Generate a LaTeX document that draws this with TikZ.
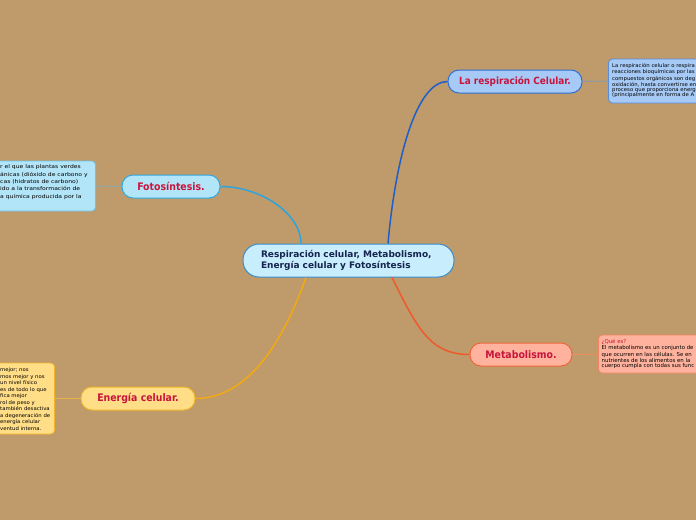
\documentclass[tikz,border=0pt]{standalone}
\usepackage{fontspec}
\setmainfont{DejaVu Sans}
\newfontfamily\titlefont{DejaVu Sans Condensed}
\newfontfamily\noteF{DejaVu Sans}[FakeStretch=1.17]
\newfontfamily\noteR{DejaVu Sans}[FakeStretch=1.05]
\newfontfamily\noteE{DejaVu Sans}[FakeStretch=1.07]
\definecolor{bg}{HTML}{BF9A6B}
\definecolor{cfill}{HTML}{C8EDFD}
\definecolor{cdraw}{HTML}{3A8CC8}
\definecolor{ctext}{HTML}{16244F}
\definecolor{ttext}{HTML}{C8143C}
\definecolor{ffill}{HTML}{B3E5F8}
\definecolor{fdraw}{HTML}{30A8DE}
\definecolor{rfill}{HTML}{A6C9F5}
\definecolor{rdraw}{HTML}{2F6FD0}
\definecolor{mfill}{HTML}{FFB39E}
\definecolor{mdraw}{HTML}{F0663A}
\definecolor{efill}{HTML}{FFDE87}
\definecolor{edraw}{HTML}{F2B52A}
\definecolor{fline}{HTML}{2DA5DC}
\definecolor{rline}{HTML}{1F5FC9}
\definecolor{mline}{HTML}{EE5A2A}
\definecolor{eline}{HTML}{F2AA12}
\definecolor{fnote}{HTML}{8FA8A8}
\definecolor{rnote}{HTML}{8C9AA8}
\definecolor{mnote}{HTML}{E89060}
\definecolor{enote}{HTML}{E4B448}
\tikzset{
  title/.style={rounded corners=11pt, line width=1pt, minimum height=23pt, inner sep=0pt,
    text=ttext, font=\titlefont\bfseries\fontsize{10.4}{12}\selectfont},
  notebox/.style={rounded corners=4pt, line width=0.8pt, inner sep=0pt},
  notetext/.style={inner sep=0pt, align=left, anchor=north west, text=black},
  branch/.style={line width=1.5pt},
  leaf/.style={line width=1pt}
}
\begin{document}
\begin{tikzpicture}[x=1pt,y=-1pt]
\useasboundingbox (0,0) rectangle (696,520);
\clip (0,0) rectangle (696,520);
\fill[bg] (0,0) rectangle (696,520);

% central
\node[draw=cdraw, fill=cfill, line width=1pt, rounded corners=16pt, minimum width=211pt, minimum height=33pt,
  text width=175pt, align=left, inner xsep=0pt, text=ctext,
  font=\bfseries\fontsize{9}{10.5}\selectfont] (c) at (348.5,260.5)
  {Respiración celular, Metabolismo,\\Energía celular y Fotosíntesis};

\node[title, draw=fdraw, fill=ffill, minimum width=98pt] (f) at (171,186.5) {Fotosíntesis.};
\node[title, draw=rdraw, fill=rfill, minimum width=134pt, font=\titlefont\bfseries\fontsize{9.9}{12}\selectfont] (r) at (515,81.5) {La respiración Celular.};
\node[title, draw=mdraw, fill=mfill, minimum width=102pt] (m) at (521,354.5) {Metabolismo.};
\node[title, draw=edraw, fill=efill, minimum width=114pt] (e) at (138,398.5) {Energía celular.};

% notes
\node[notebox, draw=fdraw!70, fill=ffill, minimum width=110pt, minimum height=50pt, anchor=east] (fn) at (96,186) {};
\node[notetext, font=\noteF\fontsize{5.2}{7.4}\selectfont] (fnt) at (0,164.5)
  {r el que las plantas verdes\\ánicas (dióxido de carbono y\\cas (hidratos de carbono)\\ido a la transformación de\\a química producida por la};

\node[notebox, draw=rdraw!80, fill=rfill, minimum width=110pt, minimum height=44pt, anchor=west] (rn) at (608,81) {};
\node[notetext, font=\noteR\fontsize{5.1}{4.8}\selectfont] (rnt) at (612,63.5)
  {La respiración celular o respira\\reacciones bioquímicas por las\\compuestos orgánicos son deg\\oxidación, hasta convertirse en\\proceso que proporciona energ\\(principalmente en forma de A};

\node[notebox, draw=mdraw!80, fill=mfill, minimum width=120pt, minimum height=38pt, anchor=west] (mn) at (598,354) {};
\node[notetext, font=\fontsize{5.4}{5.1}\selectfont] (mnt) at (601.5,339)
  {\textcolor{ttext}{¿Qué es?}\\El metabolismo es un conjunto de\\que ocurren en las células. Se en\\nutrientes de los alimentos en la\\cuerpo cumpla con todas sus func};

\node[notebox, draw=edraw, fill=efill, minimum width=70pt, minimum height=71pt, anchor=east] (en) at (55,398.5) {};
\node[notetext, font=\noteE\fontsize{5}{6.5}\selectfont] (ent) at (0,367.5)
  {mejor; nos\\mos mejor y nos\\un nivel físico\\es de todo lo que\\fica mejor\\rol de peso y\\también desactiva\\a degeneración de\\energía celular\\ventud interna.};

% branch connectors
\draw[branch, fline] ([xshift=-47.5pt]c.north) .. controls +(0,-30) and +(40,0) .. (f.east);
\draw[branch, rline] ([xshift=39.5pt]c.north) .. controls +(8,-90) and +(-30,0) .. (r.west);
\draw[branch, mline] ([xshift=43.5pt]c.south) .. controls +(25,50) and +(-40,0) .. (m.west);
\draw[branch, eline] ([xshift=-42.5pt]c.south) .. controls +(-25,70) and +(50,0) .. (e.east);

% leaf connectors
\draw[leaf, fnote] (f.west) -- (fn.east);
\draw[leaf, rnote] (r.east) -- (rn.west);
\draw[leaf, mnote] (m.east) -- (mn.west);
\draw[leaf, enote] (e.west) -- (en.east);
\end{tikzpicture}
\end{document}
